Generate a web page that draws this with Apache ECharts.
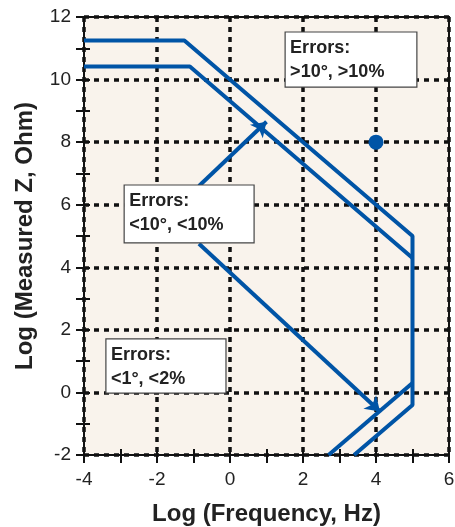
<!DOCTYPE html>
<html><head><meta charset="utf-8">
<script src="https://cdn.jsdelivr.net/npm/echarts@6/dist/echarts.min.js"></script>
<style>html,body{margin:0;padding:0;background:#fff}#c{width:455px;height:527px}</style>
</head><body><div id="c"></div>
<script>
// ---- data (log10 frequency, log10 |Z|) ----
const upperBoundary = [[-4, 11.25], [-1.25, 11.25], [5, 5], [5, -0.4], [3.4, -2]];
const innerBoundary = [[-4, 10.42], [-1.1, 10.42], [5, 4.3]];
const lowerBoundary = [[5, 0.3], [2.7, -2]];
const arrowFrom = [[-0.85, 6.6], [-0.85, 4.75]];
const arrowTo = [[1.0, 8.65], [4.11, -0.61]];
const markerPoints = [[4, 8]];
const boxCorners = [[[1.51, 11.52], [5.12, 9.76]], [[-2.9, 6.63], [0.66, 4.78]], [[-3.4, 1.71], [-0.11, -0.02]]];
const boxTexts = ['Errors:\n>10°, >10%', 'Errors:\n<10°, <10%', 'Errors:\n<1°, <2%'];
const xTicks = [-4, -2, 0, 2, 4, 6];
const yTicks = [-2, 0, 2, 4, 6, 8, 10, 12];
const xName = 'Log (Frequency, Hz)';
const yName = 'Log (Measured Z, Ohm)';

const BLUE = '#0054a6';
const FONT = '"Liberation Sans", Arial, sans-serif';
const chart = echarts.init(document.getElementById('c'));

const xStep = xTicks[1] - xTicks[0], yStep = yTicks[1] - yTicks[0];
function axisPair(dim, ticks, step, name) {
  const base = {
    type: 'value', min: ticks[0], max: ticks[ticks.length - 1], interval: step,
  };
  const main = Object.assign({}, base, {
    position: dim === 'x' ? 'bottom' : 'left',
    name: name, nameLocation: 'middle',
    nameGap: dim === 'x' ? 47 : 47,
    nameTextStyle: { fontFamily: FONT, fontWeight: 'bold', fontSize: 24, color: '#222' },
    axisLine: { show: true, onZero: false, lineStyle: { color: '#111', width: 2 } },
    axisTick: { show: true, inside: false, length: 8, lineStyle: { color: '#111', width: 2 } },
    minorTick: { show: true, splitNumber: 2, length: 8, lineStyle: { color: '#111', width: 2 } },
    axisLabel: { fontFamily: FONT, fontSize: 19, color: '#222', margin: dim === 'x' ? 15 : 13 },
    splitLine: { show: true, lineStyle: { color: '#111', width: 3.5, type: [5, 5] } },
  });
  const inner = Object.assign({}, base, {
    position: dim === 'x' ? 'bottom' : 'left',
    axisLine: { show: false, onZero: false },
    axisTick: { show: true, inside: true, length: 6, lineStyle: { color: '#111', width: 2 } },
    minorTick: { show: true, splitNumber: 2, length: 6, lineStyle: { color: '#111', width: 2 } },
    axisLabel: { show: false },
    splitLine: { show: false },
  });
  return [main, inner];
}

const lineStyle = { color: BLUE, width: 4 };
function boundary(data) {
  return { type: 'line', xAxisIndex: 0, yAxisIndex: 0, data: data, showSymbol: false, symbol: 'none',
           lineStyle: lineStyle, clip: false, z: 3, silent: true };
}

const option = {
  animation: false,
  grid: { left: 84, right: 6, top: 17, bottom: 72, show: true, backgroundColor: '#f9f3ec',
          borderColor: '#111', borderWidth: 2, containLabel: false, outerBoundsMode: 'none' },
  xAxis: axisPair('x', xTicks, xStep, xName),
  yAxis: axisPair('y', yTicks, yStep, yName),
  series: [
    boundary(upperBoundary),
    boundary(innerBoundary),
    boundary(lowerBoundary),
    { type: 'lines', coordinateSystem: 'cartesian2d', xAxisIndex: 0, yAxisIndex: 0,
      symbol: ['none', 'arrow'], symbolSize: 14,
      lineStyle: { color: BLUE, width: 4, opacity: 1 }, z: 4,
      data: arrowFrom.map((f, i) => ({ coords: [f, arrowTo[i]] })) },
    { type: 'scatter', xAxisIndex: 0, yAxisIndex: 0, data: markerPoints, symbolSize: 15,
      itemStyle: { color: BLUE, opacity: 1 }, z: 5 }
  ]
};
chart.setOption(option);

const graphics = [];
boxCorners.forEach((bc, i) => {
  const p0 = chart.convertToPixel({ gridIndex: 0 }, bc[0]);
  const p1 = chart.convertToPixel({ gridIndex: 0 }, bc[1]);
  graphics.push({ type: 'rect', z: 100, shape: { x: p0[0], y: p0[1], width: p1[0] - p0[0], height: p1[1] - p0[1] },
                  style: { fill: '#fff', stroke: '#444', lineWidth: 1.2 } });
  graphics.push({ type: 'text', z: 101, x: p0[0] + 5, y: p0[1] + 4,
                  style: { text: boxTexts[i], fill: '#222', fontFamily: FONT, fontWeight: 'bold', fontSize: 18,
                           lineHeight: 24, verticalAlign: 'top', align: 'left' } });
});
chart.setOption({ graphic: graphics });
</script></body></html>
